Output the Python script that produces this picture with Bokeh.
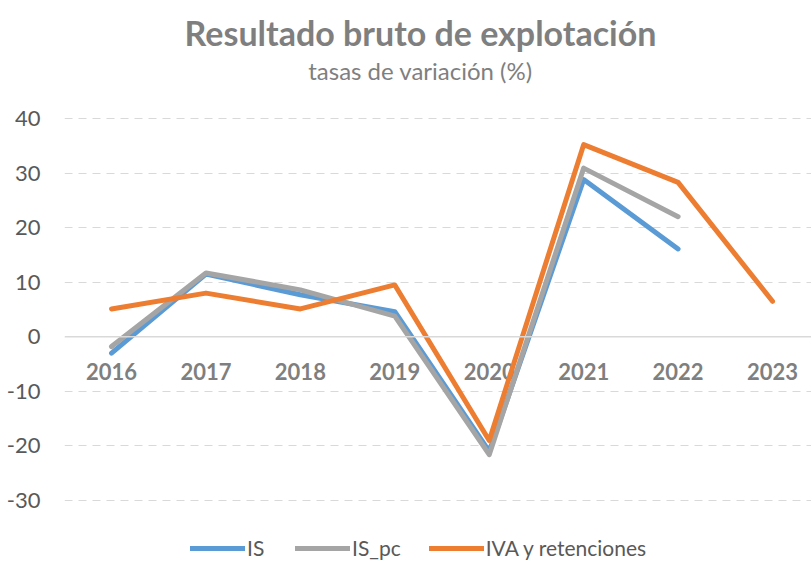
from bokeh.plotting import figure
from bokeh.models import ColumnDataSource, FixedTicker, Span, Label, Legend, LegendItem
from bokeh.core.properties import value
from bokeh.embed import file_html
from bokeh.resources import INLINE

years = [2016, 2017, 2018, 2019, 2020, 2021, 2022, 2023]
year_labels = ["2016", "2017", "2018", "2019", "2020", "2021", "2022", "2023"]
is_vals = [-3.0, 11.5, 7.7, 4.6, -21.0, 28.8, 16.1]
is_pc_vals = [-1.8, 11.7, 8.6, 3.8, -21.6, 30.9, 22.0]
iva_vals = [5.1, 8.0, 5.1, 9.5, -19.0, 35.2, 28.3, 6.5]
y_ticks = [-30, -20, -10, 0, 10, 20, 30, 40]
y_tick_labels = ["-30", "-20", "-10", "0", "10", "20", "30", "40"]
title_text = "Resultado bruto de explotación"
subtitle_text = "tasas de variación (%)"

FONT = "Lato"

# the plotting frame spans the whole height; grid/ticks are limited to -30..40
p = figure(width=811, height=561, output_backend="svg", toolbar_location=None,
           x_range=(2015.502, 2023.413), y_range=(-41.18, 61.62),
           x_axis_location=None, min_border_left=64, min_border_right=0,
           min_border_bottom=0, min_border_top=0)
p.outline_line_color = None
p.background_fill_color = "white"
p.border_fill_color = "white"

# y axis
ax = p.yaxis[0]
ax.ticker = FixedTicker(ticks=y_ticks)
ax.major_label_overrides = {t: s for t, s in zip(y_ticks, y_tick_labels)}
ax.axis_line_color = None
ax.major_tick_line_color = None
ax.minor_tick_line_color = None
ax.major_tick_out = 0
ax.major_tick_in = 0
ax.minor_tick_out = 0
ax.major_label_text_font = FONT
ax.major_label_text_font_size = "22px"
ax.major_label_text_color = "#595959"
ax.major_label_standoff = 24

p.xgrid.visible = False
p.ygrid.ticker = FixedTicker(ticks=[t for t in y_ticks if t != 0])
p.ygrid.grid_line_color = "#d9d9d9"
p.ygrid.grid_line_dash = "8 6"
p.ygrid.grid_line_width = 1
p.add_layout(Span(location=0, dimension="width", line_color="#d9d9d9", line_width=1.5))

# category labels at zero line
lab_src = ColumnDataSource(dict(x=years, y=[0] * len(years), t=year_labels))
p.text(x="x", y="y", text="t", source=lab_src, text_font=value(FONT),
       text_font_size="22px", text_font_style="bold", text_color="#7f7f7f",
       text_align="center", text_baseline="middle", y_offset=35)

r1 = p.line(years[:len(is_vals)], is_vals, line_color="#5B9BD5", line_width=5, line_join="round", line_cap="round")
r2 = p.line(years[:len(is_pc_vals)], is_pc_vals, line_color="#A5A5A5", line_width=5, line_join="round", line_cap="round")
r3 = p.line(years, iva_vals, line_color="#ED7D31", line_width=5, line_join="round", line_cap="round")

legend = Legend(items=[LegendItem(label="IS", renderers=[r1]),
                       LegendItem(label="IS_pc", renderers=[r2]),
                       LegendItem(label="IVA y retenciones", renderers=[r3])],
                orientation="horizontal", location=(126, 1),
                glyph_width=55, glyph_height=16, label_height=16,
                label_standoff=2, spacing=28, padding=0, margin=0,
                label_text_font=FONT, label_text_font_size="21px",
                label_text_color="#595959", border_line_color=None,
                background_fill_alpha=0)
p.add_layout(legend, "center")

# titles
p.add_layout(Label(x=2019.272, y=55.67, text=title_text, text_font=FONT,
                   text_font_size="34px", text_font_style="bold", text_color="#7f7f7f",
                   text_align="center", text_baseline="middle"))
p.add_layout(Label(x=2019.272, y=48.8, text=subtitle_text, text_font=FONT,
                   text_font_size="24px", text_color="#7f7f7f",
                   text_align="center", text_baseline="middle"))

open("out.html", "w").write(file_html(p, INLINE))
